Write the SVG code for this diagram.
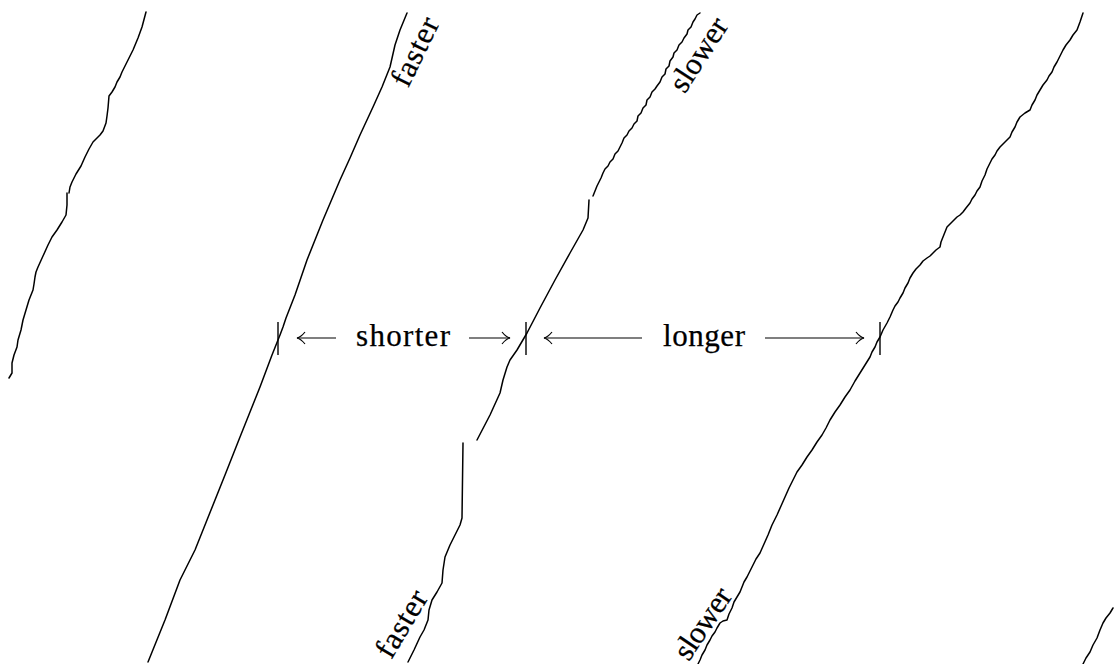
<svg xmlns="http://www.w3.org/2000/svg" width="1115" height="664" viewBox="0 0 1115 664">
<style>
.trace{fill:none;stroke:#000;stroke-width:1.5;stroke-linejoin:round;stroke-linecap:round}
.tick{stroke:#000;stroke-width:1.4}
.arr{fill:none;stroke:#000;stroke-width:1.2}
.lbl{font-family:"Liberation Serif","Times New Roman",serif;font-size:31px;fill:#000;stroke:#000;stroke-width:0.25}
</style>
<defs>
<marker id="ah" markerUnits="userSpaceOnUse" markerWidth="14" markerHeight="14" viewBox="-11 -7 14 14" refX="0" refY="0" orient="auto">
<path d="M-8,-6 Q-4,-1 0,0 Q-4,1 -8,6" fill="none" stroke="#000" stroke-width="1.2"/>
</marker>
</defs>
<rect width="1115" height="664" fill="#fff"/>
<g id="traces">
<path id="traceA" class="trace" d="M146,12 L142,27 L138,38 L133,50 L127,62 L122,72 L120,77 L117,82 L115,87 L112,92 L109,96 L108,108 L107,116 L106,123 L103,131 L100,135 L96,139 L93,142 L89,149 L85,157 L81,166 L76,174 L72,182 L70,187 L69,193 M67,193 L67,205 L66,215 L62,222 L57,230 L52,237 L48,245 L43,256 L38,267 L36,272 L35,277 L34,284 L33,290 L29,300 L26,310 L23,320 L21,330 L18,340 L17,347 L14,355 L12,363 L12,373 L9,378"/>
<path id="traceB" class="trace" d="M407,13 L400,30 L395,45 L390,67 L382,87 L373,107 L360,135 L350,158 L340,180 L323,220 L307,260 L295,295 L286,318 L283,327 L280,335 L278,340 L272,355 L260,387 L250,412 L240,437 L225,475 L207,520 L195,550 L180,580 L165,620 L148,662"/>
<path id="traceC1" class="trace" d="M700,13 L697,15 L695,19 L693,22 L691,27 L688,30 L687,34 L684,38 L682,42 L679,45 L677,50 L674,53 L673,57 L670,61 L669,66 L666,69 L665,74 L662,77 L660,82 L657,86 L655,89 L652,92 L650,97 L647,100 L646,105 L643,108 L641,113 L638,116 L637,121 L634,124 L632,128 L629,131 L627,135 L624,138 L622,143 L620,147 L618,151 L615,154 L613,159 L610,162 L608,166 L605,169 L603,173 L601,178 L599,182 L597,186 L595,191 L593,196"/>
<path id="traceC2" class="trace" d="M589,200 L588,218 L583,230 L570,253 L555,280 L540,308 L527,333 L517,350 L510,360 L507,367 L503,380 L500,393 L490,415 L477,440"/>
<path id="traceD" class="trace" d="M463,443 L462,518 L460,525 L455,535 L450,545 L445,557 L443,570 L442,583 L437,592 L432,600 L429,610 L428,620 L424,630 L420,637 L414,650 L408,662"/>
<path id="traceE" class="trace" d="M1083,13 L1080,22 L1077,30 L1073,35 L1070,40 L1066,45 L1063,50 L1060,56 L1057,62 L1054,67 L1052,72 L1049,76 L1047,80 L1043,85 L1040,90 L1037,95 L1035,100 L1032,105 L1030,110 L1025,113 L1020,117 L1017,122 L1015,127 L1012,132 L1010,137 L1005,142 L1000,147 L997,151 L995,155 L992,159 L990,163 L987,169 L985,175 L982,181 L980,187 L977,191 L975,195 L972,199 L970,203 L966,208 L963,212 L960,215 L957,217 L952,222 L947,227 L945,232 L943,237 L941,242 L940,247 L936,250 L933,253 L930,256 L927,258 L923,261 L920,265 L916,269 L913,273 L910,278 L908,283 L905,288 L903,293 L900,298 L898,302 L895,306 L893,310 L890,317 L887,323 L883,330 L880,337 L877,342 L875,347 L872,352 L870,357 L865,365 L860,373 L855,381 L850,390 L845,397 L840,405 L835,412 L830,420 L826,428 L822,435 L817,442 L812,450 L807,457 L802,465 L797,472 L793,480 L789,488 L785,497 L781,506 L777,515 L772,525 L768,535 L764,544 L760,553 L756,559 L753,565 L750,571 L747,577 L744,582 L742,587 L740,592 L737,597 L734,602 L732,608 L729,614 L727,620 L723,621 L720,623 L717,628 L715,632 L712,636 L710,640 L707,645 L705,650 L702,655 L700,660 L698,664"/>
<path id="traceF" class="trace" d="M1113,608 L1110,613 L1106,618 L1103,623 L1100,630 L1097,638 L1093,645 L1090,652 L1086,658 L1083,664"/>
</g>
<g id="ticks">
<line class="tick" x1="278" y1="322" x2="278" y2="355"/>
<line class="tick" x1="526" y1="322" x2="526" y2="355"/>
<line class="tick" x1="880" y1="322" x2="880" y2="355"/>
</g>
<g id="connectors">
<line class="arr" x1="336" y1="338" x2="297" y2="338" marker-end="url(#ah)"/>
<line class="arr" x1="469" y1="338" x2="510" y2="338" marker-end="url(#ah)"/>
<line class="arr" x1="642" y1="338" x2="544" y2="338" marker-end="url(#ah)"/>
<line class="arr" x1="765" y1="338" x2="864" y2="338" marker-end="url(#ah)"/>
</g>
<g id="labels">
<text class="lbl" x="356" y="346" textLength="94" lengthAdjust="spacing">shorter</text>
<text class="lbl" x="663" y="346" textLength="82" lengthAdjust="spacing">longer</text>
<text class="lbl" text-anchor="middle" textLength="73" lengthAdjust="spacing" transform="translate(424,56) rotate(-64)">faster</text>
<text class="lbl" text-anchor="middle" textLength="82" lengthAdjust="spacing" transform="translate(707,60) rotate(-57)">slower</text>
<text class="lbl" text-anchor="middle" textLength="73" lengthAdjust="spacing" transform="translate(410,629) rotate(-59)">faster</text>
<text class="lbl" text-anchor="middle" textLength="80" lengthAdjust="spacing" transform="translate(711,629) rotate(-56)">slower</text>
</g>
</svg>
